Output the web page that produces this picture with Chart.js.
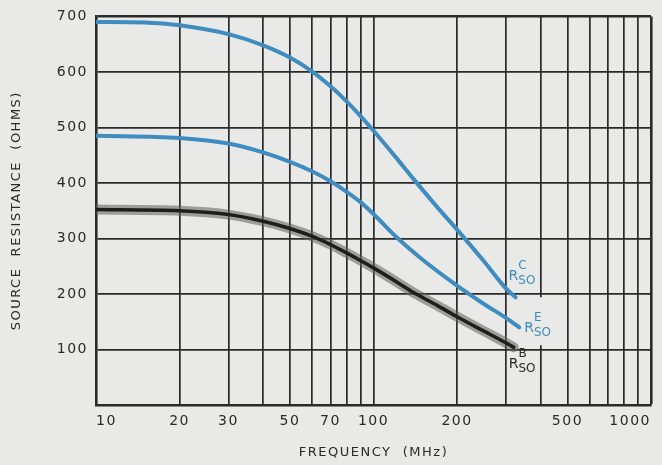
<!DOCTYPE html>
<html>
<head>
<meta charset="utf-8">
<title>Source resistance vs frequency</title>
<script src="https://cdn.jsdelivr.net/npm/chart.js@4.4.1/dist/chart.umd.min.js"></script>
<style>
    html, body { margin: 0; padding: 0; background: #e9e9e7; }
</style>
</head>
<body>
<canvas id="sourceResistanceChart" width="662" height="465"></canvas>
<script>
// R_SO^C curve
const freqC = [10, 15, 20, 30, 40, 50, 60, 70, 80, 90, 100, 120, 140, 170, 200, 250, 300, 325];
const resC = [690, 689, 684, 668, 648, 626, 601, 574, 547, 520, 494, 447, 406, 356, 316, 259, 210, 194];

// R_SO^E curve
const freqE = [10, 20, 30, 40, 50, 60, 70, 80, 90, 100, 120, 150, 200, 250, 300, 335];
const resE = [485, 481, 471, 455, 438, 421, 403, 384, 365, 344, 304, 262, 215, 182, 157, 140];

// R_SO^B curve (the heavy black one)
const freqB = [10, 20, 30, 40, 50, 60, 70, 80, 90, 100, 120, 140, 170, 200, 250, 300, 320];
const resB = [352, 350, 343, 331, 318, 304, 289, 274, 260, 247, 223, 202, 179, 159, 133, 112, 104];

const xGridValues = [10, 20, 30, 40, 50, 60, 70, 80, 90, 100, 200, 300, 400, 500, 600, 700, 800, 900, 1000];
const xTickLabels = [10, 20, 30, 50, 70, 100, 200, 500, 1000];
const yTickLabels = [100, 200, 300, 400, 500, 600, 700];

const PAPER = '#e9e9e7';
const BLUE = '#3f8dc0';
const INK = '#2a2a2a';
const FONT = '"DejaVu Sans", sans-serif';

const toPoints = (xs, ys) => xs.map((x, i) => ({ x, y: ys[i] }));

// end-of-curve labels, anchored on the last point of a dataset
const endLabels = [
    { dataset: 0, sup: 'C', color: BLUE, dx: -7, dy: -17 },
    { dataset: 1, sup: 'E', color: BLUE, dx: 5, dy: 5, mask: { top: 35, bottom: 13 } },
    { dataset: 2, sup: 'B', color: INK, dx: -5, dy: 21 }
];

function labelAnchor(chart, label) {
    const points = chart.getDatasetMeta(label.dataset).data;
    const last = points[points.length - 1];
    return { x: last.x + label.dx, y: last.y + label.dy };
}

function drawRso(ctx, x, y, sup, color) {
    ctx.fillStyle = color;
    ctx.textAlign = 'left';
    ctx.textBaseline = 'alphabetic';
    ctx.font = '14px ' + FONT;
    ctx.fillText('R', x, y);
    const rw = ctx.measureText('R').width;
    ctx.font = '12px ' + FONT;
    ctx.fillText(sup, x + rw, y - 11);
    ctx.fillText('SO', x + rw, y + 4);
}

const wideLetters = {
    id: 'wideLetters',
    beforeDraw(chart) {
        chart.ctx.letterSpacing = '1.5px';
    }
};

const curveLabels = {
    id: 'curveLabels',
    beforeDatasetsDraw(chart) {
        // the printed chart blanks the grid behind the E label
        const ctx = chart.ctx;
        ctx.save();
        ctx.fillStyle = PAPER;
        endLabels.filter(l => l.mask).forEach(l => {
            const a = labelAnchor(chart, l);
            ctx.fillRect(a.x - 3, a.y - l.mask.top, 32, l.mask.top + l.mask.bottom);
        });
        ctx.restore();
    },
    afterDatasetsDraw(chart) {
        const ctx = chart.ctx;
        ctx.save();
        ctx.letterSpacing = '0px';
        endLabels.forEach(l => {
            const a = labelAnchor(chart, l);
            drawRso(ctx, a.x, a.y, l.sup, l.color);
        });
        ctx.restore();
    }
};

const ctx = document.getElementById('sourceResistanceChart').getContext('2d');

new Chart(ctx, {
    type: 'line',
    data: {
        datasets: [
            {
                label: 'R_SO^C',
                data: toPoints(freqC, resC),
                borderColor: BLUE,
                borderWidth: 4
            },
            {
                label: 'R_SO^E',
                data: toPoints(freqE, resE),
                borderColor: BLUE,
                borderWidth: 4
            },
            {
                label: 'R_SO^B',
                data: toPoints(freqB, resB),
                borderColor: '#1e1e1e',
                borderWidth: 3.5
            },
            {
                label: 'R_SO^B halo',
                data: toPoints(freqB, resB),
                borderColor: 'rgba(95, 95, 95, 0.55)',
                borderWidth: 10
            }
        ]
    },
    options: {
        responsive: false,
        animation: false,
        events: [],
        cubicInterpolationMode: 'monotone',
        pointRadius: 0,
        borderCapStyle: 'round',
        layout: {
            padding: { top: 10, right: 11, bottom: 0, left: 0 }
        },
        plugins: {
            legend: { display: false },
            tooltip: { enabled: false }
        },
        scales: {
            x: {
                type: 'logarithmic',
                min: 10,
                max: 1000,
                afterBuildTicks: (scale) => {
                    scale.ticks = xGridValues.map(v => ({ value: v }));
                },
                afterFit: (scale) => {
                    scale.height = 60;
                },
                grid: {
                    color: INK,
                    lineWidth: (c) => (c.tick && c.tick.value === 1000 ? 2.6 : 1.7),
                    drawTicks: false
                },
                border: { color: INK, width: 2.6 },
                ticks: {
                    autoSkip: false,
                    maxRotation: 0,
                    minRotation: 0,
                    align: 'inner',
                    padding: 8,
                    color: INK,
                    font: { family: FONT, size: 14 },
                    callback: (value) => (xTickLabels.includes(value) ? String(value) : '')
                },
                title: {
                    display: true,
                    text: 'FREQUENCY  (MHz)',
                    color: INK,
                    font: { family: FONT, size: 13 },
                    padding: { top: 0, bottom: 5 }
                }
            },
            y: {
                min: 0,
                max: 700,
                afterFit: (scale) => {
                    scale.width = 96;
                },
                grid: {
                    color: INK,
                    lineWidth: (c) => (c.tick && c.tick.value === 700 ? 2.6 : 1.7),
                    drawTicks: false
                },
                border: { color: INK, width: 2.6 },
                ticks: {
                    stepSize: 100,
                    padding: 8,
                    color: INK,
                    font: { family: FONT, size: 14 },
                    callback: (value) => (yTickLabels.includes(value) ? String(value) : '')
                },
                title: {
                    display: true,
                    text: 'SOURCE  RESISTANCE  (OHMS)',
                    color: INK,
                    font: { family: FONT, size: 13 },
                    padding: { top: 9, bottom: 0 }
                }
            }
        }
    },
    plugins: [wideLetters, curveLabels]
});
</script>
</body>
</html>
